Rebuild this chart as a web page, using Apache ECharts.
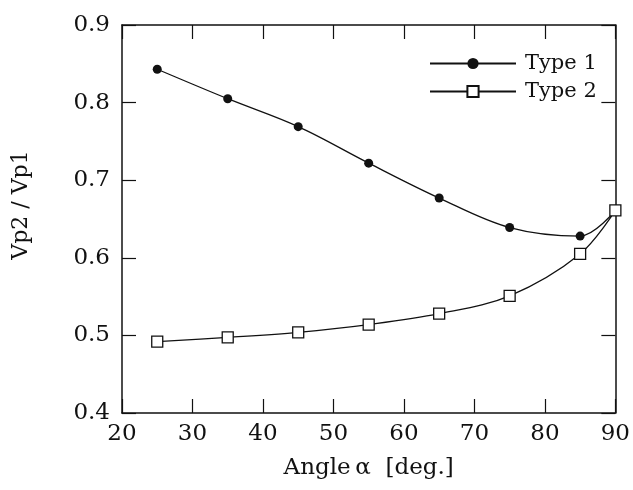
<!DOCTYPE html>
<html>
<head>
<meta charset="utf-8">
<script src="https://cdn.jsdelivr.net/npm/echarts@6/dist/echarts.min.js"></script>
<style>
  html, body { margin: 0; padding: 0; background: #fff; }
  #chart { width: 633px; height: 490px; }
</style>
</head>
<body>
<div id="chart"></div>
<script>
// angle alpha [deg.]
const angles = [25, 35, 45, 55, 65, 75, 85, 90]
const type1 = [0.843, 0.805, 0.769, 0.722, 0.677, 0.639, 0.628, 0.661]
const type2 = [0.492, 0.4975, 0.504, 0.514, 0.528, 0.551, 0.605, 0.661]

const font = 'DejaVu Serif, Liberation Serif, serif'
const ink = '#111'

const chart = echarts.init(document.getElementById('chart'))

const tickIn = { show: true, inside: true, length: 14, lineStyle: { color: ink, width: 1.2 } }
const edge = { show: true, onZero: false, lineStyle: { color: ink, width: 1.5 } }

chart.setOption({
  animation: false,
  backgroundColor: '#fff',
  grid: { left: 122, right: 16, top: 25, bottom: 77 },
  legend: {
    orient: 'vertical',
    left: 424,
    top: 48,
    itemWidth: 86,
    itemHeight: 14,
    itemGap: 7,
    textStyle: { fontFamily: font, fontSize: 21, color: ink, padding: [0, 0, 0, 4] },
    data: ['Type 1', 'Type 2']
  },
  xAxis: [
    {
      type: 'value', min: 20, max: 90, interval: 10,
      name: 'Angle\u2009α  [deg.]', nameLocation: 'middle', nameGap: 44,
      nameTextStyle: { fontFamily: font, fontSize: 23, color: ink },
      axisLine: edge, axisTick: tickIn,
      axisLabel: { fontFamily: font, fontSize: 23, color: ink, margin: 10 },
      splitLine: { show: false }
    },
    {
      type: 'value', min: 20, max: 90, interval: 10, position: 'top',
      axisLine: edge, axisTick: tickIn, axisLabel: { show: false }, splitLine: { show: false }
    }
  ],
  yAxis: [
    {
      type: 'value', min: 0.4, max: 0.9, interval: 0.1,
      name: 'Vp2 / Vp1', nameLocation: 'middle', nameGap: 90, nameRotate: 90,
      nameTextStyle: { fontFamily: font, fontSize: 22, color: ink, padding: [0, 0, 0, 28] },
      axisLine: edge, axisTick: tickIn,
      axisLabel: { fontFamily: font, fontSize: 23, color: ink, margin: 12, formatter: v => v.toFixed(1) },
      splitLine: { show: false }
    },
    {
      type: 'value', min: 0.4, max: 0.9, interval: 0.1, position: 'right',
      axisLine: edge, axisTick: tickIn, axisLabel: { show: false }, splitLine: { show: false }
    }
  ],
  series: [
    {
      name: 'Type 1', type: 'line', smooth: 0.35,
      data: angles.map((a, i) => [a, type1[i]]),
      symbol: 'circle', symbolSize: 9,
      itemStyle: { color: ink },
      lineStyle: { color: ink, width: 1.3 }
    },
    {
      name: 'Type 2', type: 'line', smooth: 0.35,
      data: angles.map((a, i) => [a, type2[i]]),
      symbol: 'rect', symbolSize: 11,
      itemStyle: { color: '#fff', borderColor: ink, borderWidth: 1.3 },
      lineStyle: { color: ink, width: 1.3 }
    }
  ]
})
</script>
</body>
</html>
